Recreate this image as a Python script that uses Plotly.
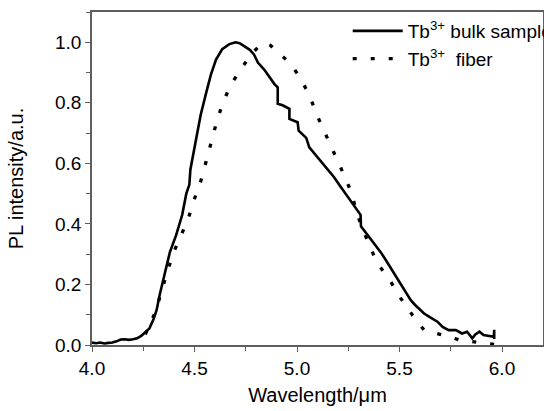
import plotly.graph_objects as go

# Tb3+ bulk sample (solid)
bulk_x = [4.00, 4.02, 4.04, 4.06, 4.08, 4.10, 4.12, 4.14, 4.16, 4.18, 4.20, 4.22, 4.24, 4.26, 4.28,
          4.30, 4.315, 4.33, 4.355, 4.38, 4.41, 4.44, 4.46, 4.475, 4.48, 4.50, 4.515, 4.53, 4.555,
          4.58, 4.605, 4.635, 4.67, 4.70, 4.72, 4.735, 4.75, 4.77, 4.79, 4.81, 4.84, 4.865, 4.89,
          4.906, 4.906, 4.93, 4.963, 4.963, 4.985, 5.003, 5.008, 5.03, 5.045, 5.06, 5.08, 5.10,
          5.12, 5.14, 5.16, 5.18, 5.20, 5.22, 5.24, 5.26, 5.28, 5.295, 5.31, 5.312, 5.33, 5.35,
          5.37, 5.39, 5.41, 5.43, 5.45, 5.47, 5.49, 5.51, 5.53, 5.555, 5.575, 5.595, 5.62, 5.65,
          5.685, 5.71, 5.74, 5.775, 5.805, 5.83, 5.855, 5.87, 5.89, 5.91, 5.935, 5.96, 5.962, 5.962]
bulk_y = [0.008, 0.006, 0.008, 0.005, 0.007, 0.008, 0.012, 0.018, 0.019, 0.017, 0.019, 0.022, 0.030,
          0.042, 0.055, 0.085, 0.115, 0.165, 0.236, 0.307, 0.362, 0.430, 0.500, 0.530, 0.580, 0.655,
          0.705, 0.760, 0.828, 0.893, 0.943, 0.977, 0.994, 1.000, 0.997, 0.990, 0.985, 0.975, 0.960,
          0.932, 0.910, 0.885, 0.862, 0.851, 0.797, 0.792, 0.780, 0.747, 0.742, 0.736, 0.708, 0.695,
          0.684, 0.653, 0.637, 0.620, 0.604, 0.588, 0.570, 0.555, 0.535, 0.516, 0.497, 0.478, 0.460,
          0.445, 0.430, 0.392, 0.376, 0.362, 0.344, 0.326, 0.305, 0.284, 0.262, 0.240, 0.222, 0.200,
          0.178, 0.148, 0.133, 0.121, 0.104, 0.091, 0.077, 0.060, 0.049, 0.049, 0.038, 0.044, 0.022,
          0.035, 0.044, 0.033, 0.030, 0.027, 0.050, 0.020]

# Tb3+ fiber (dotted)
fiber_x = [4.26, 4.274, 4.29, 4.313, 4.338, 4.365, 4.394, 4.435, 4.472, 4.50, 4.532, 4.557, 4.581,
           4.606, 4.635, 4.675, 4.727, 4.784, 4.82, 4.846, 4.87, 4.909, 4.971, 5.011, 5.06, 5.095,
           5.133, 5.177, 5.219, 5.258, 5.312, 5.352, 5.39, 5.453, 5.501, 5.563, 5.62, 5.709, 5.798,
           5.888, 5.98]
fiber_y = [0.035, 0.055, 0.080, 0.115, 0.176, 0.236, 0.300, 0.362, 0.423, 0.483, 0.544, 0.607, 0.668,
           0.732, 0.794, 0.857, 0.912, 0.966, 0.990, 0.998, 0.990, 0.966, 0.928, 0.886, 0.827, 0.763,
           0.703, 0.640, 0.577, 0.516, 0.395, 0.335, 0.272, 0.214, 0.159, 0.099, 0.049, 0.033, 0.016,
           0.008, 0.000]

x_ticks = [4.0, 4.5, 5.0, 5.5, 6.0]
y_ticks = [0.0, 0.2, 0.4, 0.6, 0.8, 1.0]

FONT = "Arial, Liberation Sans, sans-serif"
AX = "#5f5f5f"

fig = go.Figure()
fig.add_trace(go.Scatter(x=bulk_x, y=bulk_y, mode="lines", name="Tb<sup>3+</sup> bulk sample",
                         line=dict(color="black", width=2.6), legendgroup="a"))
fig.add_trace(go.Scatter(x=fiber_x, y=fiber_y, mode="lines", name="Tb<sup>3+</sup>  fiber",
                         line=dict(color="black", width=3.3, dash="4px,14px"), legendgroup="b"))

fig.update_layout(
    width=544, height=411,
    margin=dict(l=92, r=1, t=12, b=66, autoexpand=False),
    paper_bgcolor="white", plot_bgcolor="white",
    font=dict(family=FONT, color="black"),
    showlegend=True,
    legend=dict(x=0.567, y=1.0, xanchor="left", yanchor="top", bgcolor="rgba(0,0,0,0)",
                font=dict(size=19, color="black"), itemwidth=50, tracegroupgap=0,
                traceorder="grouped"),
    xaxis=dict(range=[4.0, 6.2], tickvals=x_ticks, tickformat=".1f", showgrid=False, zeroline=False,
               showline=True, linecolor=AX, linewidth=1.6, mirror=True,
               ticks="outside", ticklen=5, tickwidth=1.4, tickcolor=AX,
               minor=dict(dtick=0.25, tick0=4.0, ticks="outside", ticklen=4, tickwidth=1.4, tickcolor=AX),
               tickfont=dict(size=19), title=dict(text="Wavelength/μm", font=dict(size=20), standoff=10)),
    yaxis=dict(range=[0, 1.1], tickvals=y_ticks, tickformat=".1f", showgrid=False, zeroline=False,
               showline=True, linecolor=AX, linewidth=1.6, mirror=True,
               ticks="outside", ticklen=5, tickwidth=1.4, tickcolor=AX,
               minor=dict(dtick=0.1, tick0=0, ticks="outside", ticklen=4, tickwidth=1.4, tickcolor=AX),
               tickfont=dict(size=19), title=dict(text="PL intensity/a.u.", font=dict(size=20), standoff=26)),
    xaxis2=dict(range=[4.0, 6.2], overlaying="x", side="top", anchor="y", showgrid=False, zeroline=False,
                showline=False, showticklabels=False, ticks="inside", dtick=0.25, tick0=4.0,
                ticklen=5, tickwidth=1.4, tickcolor=AX),
    yaxis2=dict(range=[0, 1.1], overlaying="y", side="right", anchor="x", showgrid=False, zeroline=False,
                showline=False, showticklabels=False, ticks="inside", dtick=0.1, tick0=0,
                ticklen=5, tickwidth=1.4, tickcolor=AX),
)

fig.write_html("out.html", config={"displayModeBar": False},
               post_script="document.body.style.margin='0';document.body.style.overflow='hidden';")
